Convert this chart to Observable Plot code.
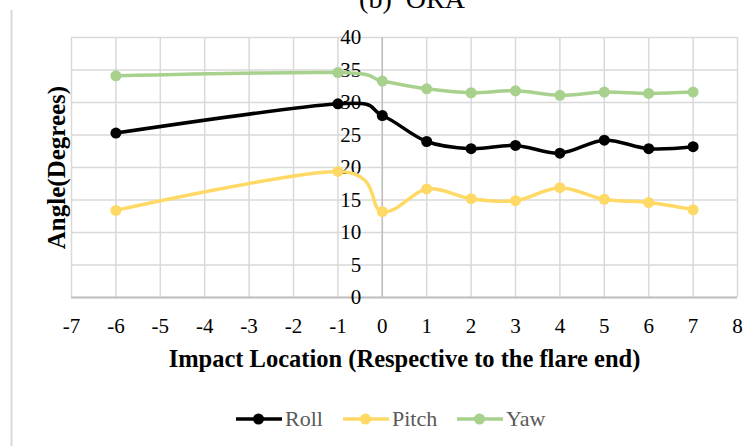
<!DOCTYPE html>
<html>
<head>
<meta charset="utf-8">
<script src="https://cdn.jsdelivr.net/npm/d3@7"></script>
<script src="https://cdn.jsdelivr.net/npm/@observablehq/plot@0.6"></script>
<style>
  html, body { margin: 0; padding: 0; background: #fff; }
  #chart svg { display: block; }
  #chart svg text { font-family: "Liberation Serif", "Times New Roman", serif; }
</style>
</head>
<body>
<div id="chart"></div>
<script>
// ---- data ----
const locations = [-6, -1, 0, 1, 2, 3, 4, 5, 6, 7];
const roll  = [25.3, 29.8, 28.0, 24.0, 22.9, 23.4, 22.2, 24.2, 22.9, 23.2];
const pitch = [13.4, 19.4, 13.2, 16.7, 15.2, 14.9, 16.9, 15.1, 14.6, 13.5];
const yaw   = [34.1, 34.6, 33.3, 32.1, 31.5, 31.8, 31.1, 31.6, 31.4, 31.6];
const seriesNames = ["Roll", "Pitch", "Yaw"];
const seriesColors = ["#000000", "#FFD966", "#A9D18E"];
const xTicks = [-7, -6, -5, -4, -3, -2, -1, 0, 1, 2, 3, 4, 5, 6, 7, 8];
const yTicks = [0, 5, 10, 15, 20, 25, 30, 35, 40];
const title = "(b)  ORA";
const xLabel = "Impact Location (Respective to the flare end)";
const yLabel = "Angle(Degrees)";

const seriesValues = [roll, pitch, yaw];
const rows = [];
seriesNames.forEach((name, i) => {
  locations.forEach((x, j) => rows.push({series: name, x, y: seriesValues[i][j]}));
});

const W = 755, H = 446;
const font = "Liberation Serif";
const grid = "#d9d9d9";

const chart = Plot.plot({
  width: W,
  height: H,
  marginLeft: 71,
  marginRight: 18,
  marginTop: 37,
  marginBottom: 149,
  style: {fontFamily: font, fontSize: "21px", color: "#000", background: "#fff", overflow: "visible"},
  x: {domain: [-7, 8], ticks: xTicks, axis: null},
  y: {domain: [0, 40], ticks: yTicks, axis: null},
  color: {domain: seriesNames, range: seriesColors},
  marks: [
    Plot.gridX(xTicks, {stroke: grid, strokeOpacity: 1, strokeWidth: 1.5}),
    Plot.gridY(yTicks, {stroke: grid, strokeOpacity: 1, strokeWidth: 1.5}),
    Plot.ruleX([0], {stroke: "#bfbfbf", strokeWidth: 1.5}),
    Plot.ruleY([0], {stroke: "#bfbfbf", strokeWidth: 2}),
    Plot.text(xTicks, {x: d => d, y: 0, text: d => String(d), dy: 29, fontSize: 21, fill: "#000"}),
    Plot.text(yTicks, {x: 0, y: d => d, text: d => String(d), dx: -21, textAnchor: "end", fontSize: 21, fill: "#000"}),
    Plot.line(rows, {x: "x", y: "y", z: "series", stroke: "series", strokeWidth: 3.5, curve: "cardinal", tension: 0}),
    Plot.dot(rows, {x: "x", y: "y", fill: "series", r: 5.5}),
    Plot.text([xLabel], {frameAnchor: "bottom", lineAnchor: "middle", dy: 62, fontSize: 24.5, fontWeight: "bold", fill: "#000"}),
    Plot.text([yLabel], {frameAnchor: "left", dx: -15, rotate: -90, textAnchor: "middle", fontSize: 25, fontWeight: "bold", fill: "#000"})
  ]
});

document.getElementById("chart").appendChild(chart);

// extra decorations (outer border, title, legend)
const svg = d3.select(chart);
svg.append("line")
  .attr("x1", 11.5).attr("x2", 11.5).attr("y1", 10).attr("y2", H)
  .attr("stroke", grid).attr("stroke-width", 2);
svg.append("text")
  .attr("x", 412).attr("y", 8)
  .attr("text-anchor", "middle")
  .attr("xml:space", "preserve")
  .style("white-space", "pre")
  .attr("font-size", 28).attr("fill", "#000")
  .text(title);

const legendX = [236, 343, 457];
const legendY = 419;
seriesNames.forEach((name, i) => {
  const g = svg.append("g").attr("transform", `translate(${legendX[i]},${legendY})`);
  g.append("line").attr("x1", 0).attr("x2", 46).attr("y1", 0).attr("y2", 0)
    .attr("stroke", seriesColors[i]).attr("stroke-width", 3.5);
  g.append("circle").attr("cx", 22.5).attr("cy", 0).attr("r", 5.5).attr("fill", seriesColors[i]);
  g.append("text").attr("x", 49).attr("y", 0).attr("dy", "0.34em")
    .attr("text-anchor", "start")
    .attr("font-size", 22).attr("fill", "#595959")
    .text(name);
});
</script>
</body>
</html>
